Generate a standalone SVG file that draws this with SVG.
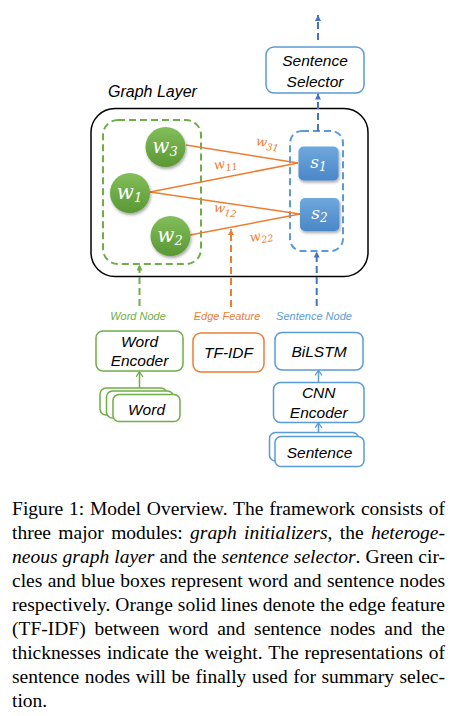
<svg xmlns="http://www.w3.org/2000/svg" width="450" height="716" viewBox="0 0 450 716">
<defs>
<style>
.lbl{font-family:"Liberation Sans",Arial,sans-serif;font-style:italic;font-size:15.5px;fill:#000;text-anchor:middle}
.small{font-family:"Liberation Sans",Arial,sans-serif;font-style:italic;font-size:11px;text-anchor:middle}
.math{font-family:"DejaVu Serif",serif;font-style:italic;fill:#fff;text-anchor:middle;font-size:20px}
.emath{font-family:"DejaVu Serif",serif;font-style:italic;fill:#ED7D31;font-size:13px;text-anchor:middle}
.cap{font-family:"Liberation Serif","Times New Roman",serif;font-size:19.5px;fill:#000}
.it{font-style:italic}
.box{fill:#fff;stroke-width:1.5}
.g{stroke:#70AD47}.o{stroke:#ED7D31}.b{stroke:#5B9BD5}
.edge{stroke:#ED7D31;stroke-width:1.5;fill:none}
.dash{stroke-width:2;stroke-dasharray:7 4;fill:none}
.solid{stroke-width:1.5;fill:none}
</style>
<linearGradient id="gg" x1="0" y1="0" x2="0" y2="1"><stop offset="0" stop-color="#82BE5A"/><stop offset="1" stop-color="#5A9834"/></linearGradient>
<linearGradient id="bgr" x1="0" y1="0" x2="0" y2="1"><stop offset="0" stop-color="#6FA8DD"/><stop offset="1" stop-color="#4A87C8"/></linearGradient>
<filter id="sh" x="-30%" y="-30%" width="170%" height="170%"><feDropShadow dx="1" dy="2" stdDeviation="1.5" flood-color="#000" flood-opacity="0.35"/></filter>
<marker id="adb" markerWidth="8" markerHeight="8" refX="6" refY="3" orient="auto" markerUnits="userSpaceOnUse"><path d="M0,0 L6,3 L0,6 z" fill="#4472C4"/></marker>
<marker id="adg" markerWidth="8" markerHeight="8" refX="6" refY="3" orient="auto" markerUnits="userSpaceOnUse"><path d="M0,0 L6,3 L0,6 z" fill="#70AD47"/></marker>
<marker id="ado" markerWidth="8" markerHeight="8" refX="6" refY="3" orient="auto" markerUnits="userSpaceOnUse"><path d="M0,0 L6,3 L0,6 z" fill="#ED7D31"/></marker>
<marker id="asg" markerWidth="8" markerHeight="8" refX="5" refY="3.5" orient="auto" markerUnits="userSpaceOnUse"><path d="M0,0 L5,3.5 L0,7" fill="none" stroke="#70AD47" stroke-width="1.3"/></marker>
<marker id="asb" markerWidth="8" markerHeight="8" refX="5" refY="3.5" orient="auto" markerUnits="userSpaceOnUse"><path d="M0,0 L5,3.5 L0,7" fill="none" stroke="#5B9BD5" stroke-width="1.3"/></marker>
</defs>
<rect width="450" height="716" fill="#fff"/>

<g id="graph-layer">
<rect x="91" y="108.5" width="277" height="168" rx="24" fill="none" stroke="#000" stroke-width="1.5"/>
<text x="108" y="97" class="lbl" style="text-anchor:start;font-size:16px">Graph Layer</text>
</g>
<g id="word-group"><rect x="103" y="120" width="98" height="144" rx="15" class="dash g"/></g>
<g id="sentence-group"><rect x="290" y="131" width="53" height="120" rx="12" class="dash b"/></g>

<g id="connectors">
<line x1="186" y1="145" x2="298" y2="163" class="edge"/>
<line x1="150" y1="192" x2="298" y2="163" class="edge"/>
<line x1="150" y1="192" x2="300" y2="214" class="edge"/>
<line x1="190" y1="235" x2="300" y2="214" class="edge"/>
<line x1="318" y1="40" x2="318" y2="15" class="dash" stroke="#4472C4" marker-end="url(#adb)"/>
<line x1="318" y1="131" x2="318" y2="93.5" class="dash" stroke="#4472C4" marker-end="url(#adb)"/>
<line x1="139.5" y1="306" x2="139.5" y2="264.5" class="dash" stroke="#70AD47" marker-end="url(#adg)"/>
<line x1="231" y1="307" x2="231" y2="229" class="dash" stroke="#ED7D31" marker-end="url(#ado)"/>
<line x1="316.7" y1="306" x2="316.7" y2="251.5" class="dash" stroke="#4472C4" marker-end="url(#adb)"/>
<line x1="139.5" y1="388" x2="139.5" y2="372" class="solid" stroke="#70AD47" marker-end="url(#asg)"/>
<line x1="318.5" y1="382.5" x2="318.5" y2="370.5" class="solid" stroke="#5B9BD5" marker-end="url(#asb)"/>
<line x1="318.5" y1="432.5" x2="318.5" y2="423" class="solid" stroke="#5B9BD5" marker-end="url(#asb)"/>
<text class="emath" transform="translate(267 147) rotate(9)">w<tspan font-size="9.5" dy="3">31</tspan></text>
<text class="emath" transform="translate(226 168) rotate(-8)">w<tspan font-size="9.5" dy="3">11</tspan></text>
<text class="emath" transform="translate(225 213) rotate(8)">w<tspan font-size="9.5" dy="3">12</tspan></text>
<text class="emath" transform="translate(262 240) rotate(-10)">w<tspan font-size="9.5" dy="3">22</tspan></text>
</g>

<g id="w3"><circle cx="165.5" cy="147" r="20" fill="url(#gg)" filter="url(#sh)"/><text x="165" y="152.5" class="math">w<tspan font-size="13" dy="3">3</tspan></text></g>
<g id="w1"><circle cx="130" cy="193" r="20" fill="url(#gg)" filter="url(#sh)"/><text x="129.5" y="198.5" class="math">w<tspan font-size="13" dy="3">1</tspan></text></g>
<g id="w2"><circle cx="170.5" cy="236" r="20" fill="url(#gg)" filter="url(#sh)"/><text x="170" y="241.5" class="math">w<tspan font-size="13" dy="3">2</tspan></text></g>
<g id="s1"><rect x="298.5" y="146.5" width="40" height="34" rx="5" fill="url(#bgr)" filter="url(#sh)"/><text x="318.5" y="168" class="math" style="font-size:17px">s<tspan font-size="12" dy="3">1</tspan></text></g>
<g id="s2"><rect x="300" y="198" width="39.5" height="33" rx="5" fill="url(#bgr)" filter="url(#sh)"/><text x="319.5" y="219" class="math" style="font-size:17px">s<tspan font-size="12" dy="3">2</tspan></text></g>

<g id="sentence-selector"><rect x="266" y="47" width="98" height="46" rx="8" class="box b"/><text x="315" y="66" class="lbl">Sentence</text><text x="315" y="87" class="lbl">Selector</text></g>

<g id="labels">
<text x="138" y="320" class="small" fill="#70AD47">Word Node</text>
<text x="227" y="320" class="small" fill="#ED7D31">Edge Feature</text>
<text x="314" y="320" class="small" fill="#5B9BD5">Sentence Node</text>
</g>

<g id="word-encoder"><rect x="96" y="331" width="87" height="40" rx="7" class="box g"/><text x="139.5" y="347" class="lbl">Word</text><text x="139.5" y="366" class="lbl">Encoder</text></g>
<g id="tf-idf"><rect x="193" y="333" width="71" height="39" rx="8" class="box o"/><text x="228.5" y="358" class="lbl">TF-IDF</text></g>
<g id="bilstm"><rect x="275" y="332.5" width="88" height="37.5" rx="7" class="box b"/><text x="319" y="356.5" class="lbl">BiLSTM</text></g>
<g id="cnn-encoder"><rect x="273.5" y="382.5" width="90.5" height="40" rx="7" class="box b"/><text x="318.7" y="397.5" class="lbl">CNN</text><text x="318.7" y="418" class="lbl">Encoder</text></g>
<g id="word-input">
<rect x="100" y="388" width="67" height="27" rx="6" class="box g"/>
<rect x="106.5" y="391" width="67" height="27" rx="6" class="box g"/>
<rect x="113" y="394.5" width="67" height="27" rx="6" class="box g"/>
<text x="146.5" y="415" class="lbl">Word</text>
</g>
<g id="sentence-input">
<rect x="269.5" y="432.5" width="89" height="28.5" rx="6" class="box b"/>
<rect x="275" y="436.5" width="89" height="30" rx="6" class="box b"/>
<text x="319.5" y="457.5" class="lbl">Sentence</text>
</g>

<g id="caption" class="cap">
<text x="12" y="515" word-spacing="0.9" textLength="433" lengthAdjust="spacing">Figure 1: Model Overview. The framework consists of</text>
<text x="12" y="539" word-spacing="2.4" textLength="433" lengthAdjust="spacing">three major modules: <tspan class="it">graph initializers</tspan>, the <tspan class="it">heteroge-</tspan></text>
<text x="12" y="563" word-spacing="0.2" textLength="433" lengthAdjust="spacing"><tspan class="it">neous graph layer</tspan> and the <tspan class="it">sentence selector</tspan>. Green cir-</text>
<text x="12" y="587" word-spacing="0.5" textLength="433" lengthAdjust="spacing">cles and blue boxes represent word and sentence nodes</text>
<text x="12" y="611" textLength="433" lengthAdjust="spacing">respectively. Orange solid lines denote the edge feature</text>
<text x="12" y="635" word-spacing="3.9" textLength="433" lengthAdjust="spacing">(TF-IDF) between word and sentence nodes and the</text>
<text x="12" y="659" word-spacing="1.1" textLength="433" lengthAdjust="spacing">thicknesses indicate the weight. The representations of</text>
<text x="12" y="683" word-spacing="0.65" textLength="433" lengthAdjust="spacing">sentence nodes will be finally used for summary selec-</text>
<text x="12" y="707">tion.</text>
</g>
</svg>
